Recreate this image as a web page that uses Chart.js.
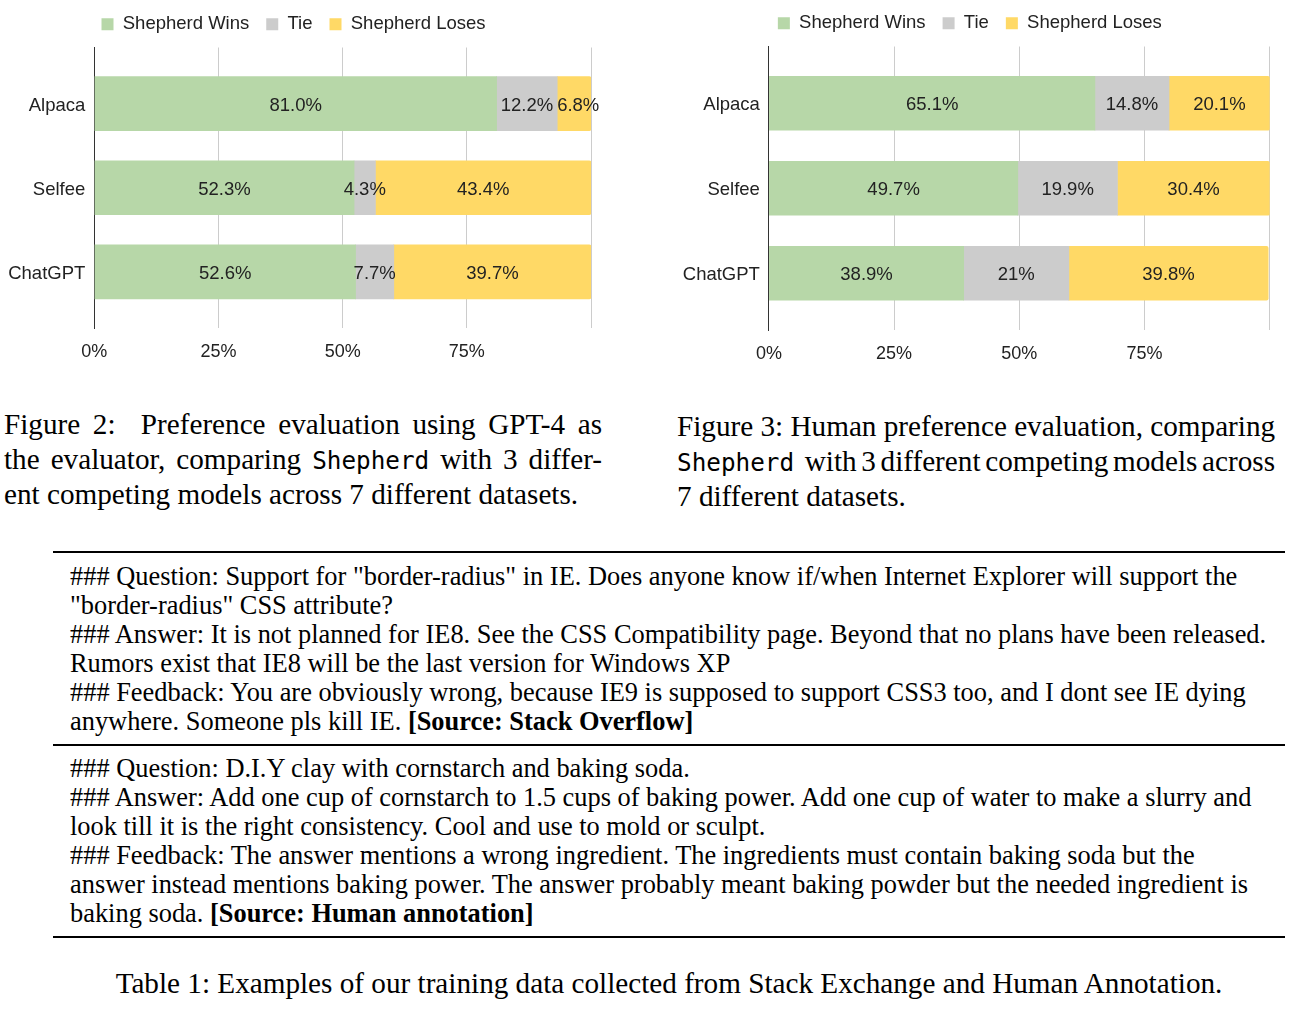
<!DOCTYPE html>
<html>
<head>
<meta charset="utf-8">
<script src="https://cdn.jsdelivr.net/npm/chart.js@4/dist/chart.umd.min.js"></script>
<style>
  html, body { margin: 0; padding: 0; background: #fff; }
  body { width: 1300px; height: 1014px; position: relative; overflow: hidden; color: #000; }
  canvas { position: absolute; }
  .serif { position: absolute; font-family: 'Liberation Serif', 'Times New Roman', serif; white-space: nowrap; }
  .cap { font-size: 29.2px; line-height: 35px; }
  .cap div { height: 35px; }
  .just { text-align: justify; text-align-last: justify; }
  .tt { font-family: 'DejaVu Sans Mono', monospace; font-size: 24.3px; }
  .tbl { font-size: 26.4px; line-height: 29px; }
  .tbl div { height: 29px; }
  .rule { position: absolute; left: 53px; width: 1232px; background: #000; }
</style>
</head>
<body>
<canvas id="c1" width="610" height="372" style="left:-4px; top:-2px;"></canvas>
<canvas id="c2" width="620" height="375" style="left:670px; top:-3px;"></canvas>

<div class="serif cap" style="left:4px; top:407px;">
  <div class="just" style="width:598px;">Figure 2: &nbsp;Preference evaluation using GPT-4 as</div>
  <div class="just" style="width:598px;">the evaluator, comparing <span class="tt">Shepherd</span> with 3 differ-</div>
  <div>ent competing models across 7 different datasets.</div>
</div>

<div class="serif cap" style="left:677px; top:409px;">
  <div class="just" style="width:598px;">Figure 3: Human preference evaluation, comparing</div>
  <div class="just" style="width:598px; word-spacing:-3px;"><span class="tt" style="margin-right:6px;">Shepherd</span> with 3 different competing models across</div>
  <div>7 different datasets.</div>
</div>

<div class="rule" style="top:551px; height:2.4px;"></div>
<div class="serif tbl" style="left:70px; top:562px;">
  <div>### Question: Support for &quot;border-radius&quot; in IE. Does anyone know if/when Internet Explorer will support the</div>
  <div>&quot;border-radius&quot; CSS attribute?</div>
  <div>### Answer: It is not planned for IE8. See the CSS Compatibility page. Beyond that no plans have been released.</div>
  <div>Rumors exist that IE8 will be the last version for Windows XP</div>
  <div>### Feedback: You are obviously wrong, because IE9 is supposed to support CSS3 too, and I dont see IE dying</div>
  <div>anywhere. Someone pls kill IE. <b>[Source: Stack Overflow]</b></div>
</div>
<div class="rule" style="top:744px; height:1.8px;"></div>
<div class="serif tbl" style="left:70px; top:754px;">
  <div>### Question: D.I.Y clay with cornstarch and baking soda.</div>
  <div>### Answer: Add one cup of cornstarch to 1.5 cups of baking power. Add one cup of water to make a slurry and</div>
  <div>look till it is the right consistency. Cool and use to mold or sculpt.</div>
  <div>### Feedback: The answer mentions a wrong ingredient. The ingredients must contain baking soda but the</div>
  <div>answer instead mentions baking power. The answer probably meant baking powder but the needed ingredient is</div>
  <div>baking soda. <b>[Source: Human annotation]</b></div>
</div>
<div class="rule" style="top:936px; height:2.4px;"></div>

<div class="serif cap" style="left:53px; width:1232px; top:966px; text-align:center;">Table 1: Examples of our training data collected from Stack Exchange and Human Annotation.</div>

<script>
// ---- data ----
const categories = ['Alpaca', 'Selfee', 'ChatGPT'];
const seriesLabels = ['Shepherd Wins', 'Tie', 'Shepherd Loses'];

// Figure 2: GPT-4 as evaluator
const gpt4Wins   = [81.0, 52.3, 52.6];
const gpt4Tie    = [12.2, 4.3, 7.7];
const gpt4Loses  = [6.8, 43.4, 39.7];

// Figure 3: human evaluation
const humanWins  = [65.1, 49.7, 38.9];
const humanTie   = [14.8, 19.9, 21];
const humanLoses = [20.1, 30.4, 39.8];

const xTickValues = [0, 25, 50, 75, 100];
const xTickLabels = ['0%', '25%', '50%', '75%', ''];

// ---- styles ----
const seriesColors = ['#b7d7a8', '#cccccc', '#ffd966'];
const FONT = "'Liberation Sans', Arial, sans-serif";
Chart.defaults.font.family = FONT;
Chart.defaults.color = '#222';

function labelPlugin(format) {
  return {
    id: 'valueLabels',
    afterDatasetsDraw(chart) {
      const ctx = chart.ctx;
      ctx.save();
      ctx.font = '18.5px ' + FONT;
      ctx.fillStyle = '#222';
      ctx.textAlign = 'center';
      ctx.textBaseline = 'middle';
      const prevRight = {};
      chart.data.datasets.forEach((ds, di) => {
        const meta = chart.getDatasetMeta(di);
        meta.data.forEach((el, i) => {
          const p = el.getProps(['x', 'base', 'y'], true);
          const txt = format(ds.data[i].x);
          const w = ctx.measureText(txt).width;
          let cx = (p.x + p.base) / 2;
          if (prevRight[i] !== undefined && cx - w / 2 < prevRight[i] + 4) {
            cx = prevRight[i] + 4 + w / 2;   // avoid overlapping the previous label
          }
          prevRight[i] = cx + w / 2;
          ctx.fillText(txt, cx, p.y + 2);
        });
      });
      ctx.restore();
    }
  };
}

const legendGap = {
  id: 'legendGap',
  beforeInit(chart) {
    const lg = chart.legend;
    if (!lg) return;
    const f = lg.fit;
    lg.fit = function () { f.call(this); this.height += 4; };
  }
};

function makeChart(id, series, format, pad, yWidth) {
  const datasets = series.map((vals, k) => ({
    label: seriesLabels[k],
    data: vals.map((v, i) => ({ x: v, y: i })),
    backgroundColor: seriesColors[k],
    borderWidth: 0,
    borderRadius: k === series.length - 1 ? 2 : 0,
    barThickness: 54
  }));
  return new Chart(document.getElementById(id), {
    type: 'bar',
    data: { datasets },
    options: {
      indexAxis: 'y',
      responsive: false,
      animation: false,
      events: [],
      layout: { padding: pad },
      plugins: {
        tooltip: { enabled: false },
        legend: {
          position: 'top',
          align: 'center',
          labels: {
            boxWidth: 12,
            boxHeight: 12,
            padding: 17,
            color: '#222',
            font: { size: 18.5 }
          }
        }
      },
      scales: {
        x: {
          type: 'linear',
          min: 0,
          max: 100,
          stacked: true,
          offset: false,
          afterBuildTicks: s => { s.ticks = xTickValues.map(v => ({ value: v })); },
          afterFit: s => { s.height = 42; s.paddingLeft = 0; s.paddingRight = 0; },
          grid: { color: '#cccccc', lineWidth: 1, drawTicks: false, offset: false },
          border: { display: false },
          ticks: {
            padding: 13,
            color: '#222',
            font: { size: 18 },
            callback: v => { const i = xTickValues.indexOf(v); return i >= 0 ? xTickLabels[i] : ''; }
          }
        },
        y: {
          type: 'linear',
          reverse: true,
          offset: false,
          min: -0.667,
          max: categories.length - 1 + 0.667,
          stacked: true,
          afterBuildTicks: s => { s.ticks = categories.map((c, i) => ({ value: i })); },
          afterFit: s => { s.width = yWidth; },
          grid: { display: false, drawTicks: false, offset: false },
          border: { display: true, color: '#333', width: 1 },
          ticks: {
            padding: 9,
            autoSkip: false,
            labelOffset: 2,
            color: '#222',
            font: { size: 18.5 },
            callback: v => categories[v] !== undefined ? categories[v] : ''
          }
        }
      }
    },
    plugins: [legendGap, labelPlugin(format)]
  });
}

makeChart('c1', [gpt4Wins, gpt4Tie, gpt4Loses], v => v.toFixed(1) + '%',
          { left: 0, right: 15, top: 0, bottom: 0 }, 98.3);
makeChart('c2', [humanWins, humanTie, humanLoses], v => String(v) + '%',
          { left: 0, right: 20.3, top: 0, bottom: 0 }, 98.9);
</script>
</body>
</html>
